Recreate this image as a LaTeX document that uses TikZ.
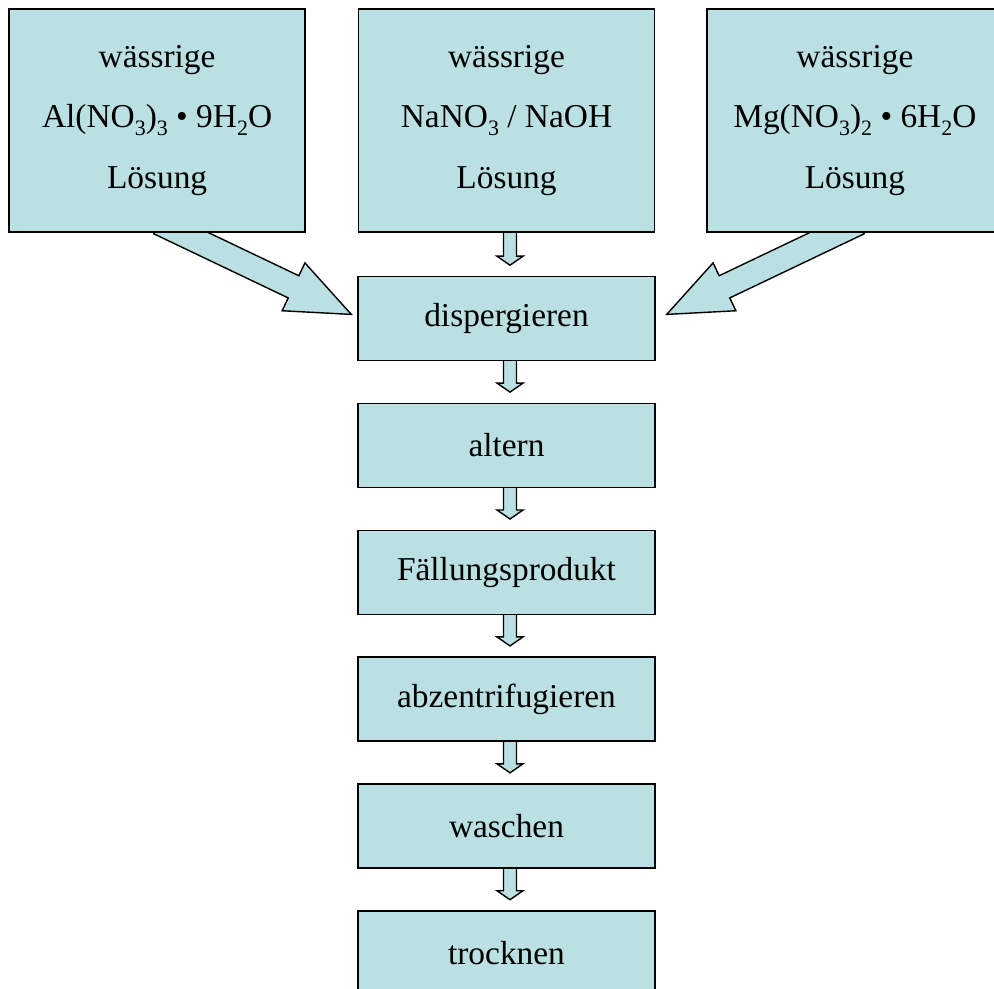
\documentclass[tikz,border=0pt]{standalone}
\usepackage{fontspec}
\setmainfont{Liberation Serif}
\usetikzlibrary{positioning, calc, backgrounds}
\definecolor{boxblue}{RGB}{187,224,227}

% lowered chemical index
\newcommand{\chemsub}[1]{\raisebox{-0.22em}{\fontsize{12.5pt}{12.5pt}\selectfont #1}}

% outlined block arrow: tail, tip, half shaft, half head, head length
\newcommand{\blockarr}[5]{%
  \coordinate (hb) at ($(#2)!#5!(#1)$);
  \path[arrowbody] ($(#1)!#3!90:(#2)$) -- ($(hb)!#3!90:(#2)$) -- ($(hb)!#4!90:(#2)$) -- (#2)
    -- ($(hb)!#4!-90:(#2)$) -- ($(hb)!#3!-90:(#2)$) -- ($(#1)!#3!-90:(#2)$) -- cycle;
}

\begin{document}
\begin{tikzpicture}[node distance=0.83cm, every node/.style={font=\fontsize{19pt}{34.6pt}\selectfont}]

	\tikzstyle{block} = [rectangle, draw=black, line width=0.8pt, fill=boxblue, minimum width=5.94cm, minimum height=1.68cm, inner sep=0pt]
	\tikzstyle{source} = [block, minimum width=5.92cm, minimum height=4.46cm, align=center]
	\tikzstyle{arrowbody} = [draw=black, line width=0.8pt, fill=boxblue, line join=miter]

	\useasboundingbox (0,0) rectangle (19.88,-19.78);
	\clip (0,0) rectangle (19.88,-19.78);

	\node [source] (nano) at (10.13,-2.41) {wässrige\\NaNO\chemsub{3} / NaOH\\Lösung};
	\node [source, left=1.04cm of nano] (al) {wässrige\\Al(NO\chemsub{3})\chemsub{3} • 9H\chemsub{2}O\\Lösung};
	\node [source, right=1.02cm of nano] (mg) {wässrige\\Mg(NO\chemsub{3})\chemsub{2} • 6H\chemsub{2}O\\Lösung};
	\node [block, below=0.86cm of nano] (disp) {dispergieren};
	\node [block, below=of disp] (alt) {altern};
	\node [block, below=of alt] (fall) {Fällungsprodukt};
	\node [block, below=of fall] (zentr) {abzentrifugieren};
	\node [block, below=of zentr] (wasch) {waschen};
	\node [block, below=of wasch] (trock) {trocknen};

	\begin{scope}[on background layer]
		% big arrows from the side solutions
		\coordinate (alTail) at ($(al.south)+(0.04,0.2)$);
		\coordinate (alTip) at ($(disp.west)+(-0.12,0.08)$);
		\blockarr{alTail}{alTip}{0.246cm}{0.53cm}{1.28cm}
		\coordinate (mgTail) at ($(mg.south)+(0.08,0.2)$);
		\coordinate (mgTip) at ($(disp.east)+(0.22,0.08)$);
		\blockarr{mgTail}{mgTip}{0.246cm}{0.53cm}{1.28cm}
		% small arrows down the column
		\foreach \a/\b in {nano/disp, disp/alt, alt/fall, fall/zentr, zentr/wasch, wasch/trock}{
			\coordinate (t\a) at ($(\a.south)+(0.07,0.2)$);
			\coordinate (h\a) at ($(\b.north)+(0.07,0.21)$);
			\blockarr{t\a}{h\a}{0.13cm}{0.26cm}{0.18cm}
		}
	\end{scope}
\end{tikzpicture}
\end{document}
